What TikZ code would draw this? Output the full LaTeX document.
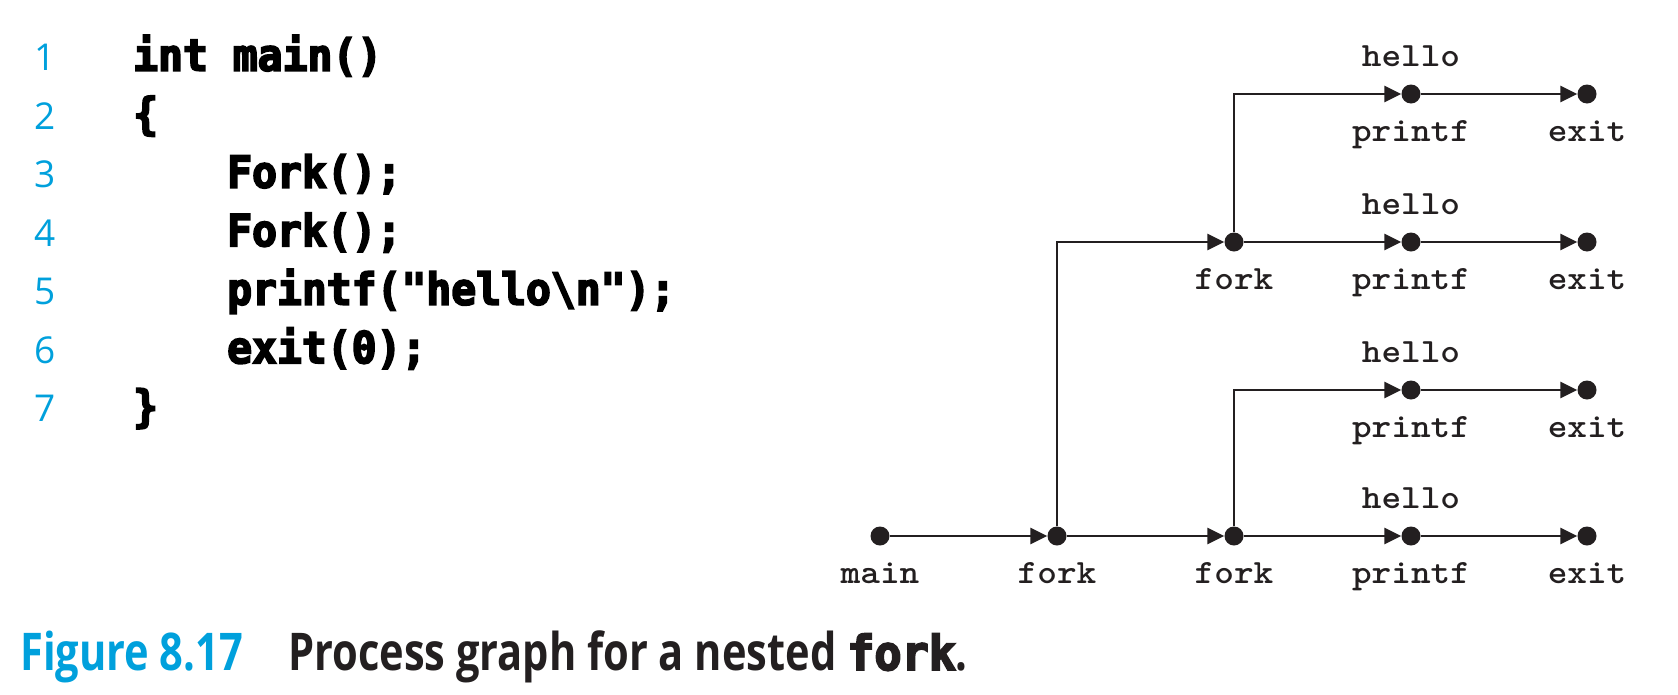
\documentclass[tikz,border=0pt]{standalone}
\usepackage{fontspec}
\usetikzlibrary{arrows.meta}
\setmainfont{Open Sans}
\newfontfamily\codefont[FakeStretch=0.94,FakeBold=4]{DejaVu Sans Mono}
\newfontfamily\capcodefont[FakeStretch=0.94,FakeBold=4]{DejaVu Sans Mono}
\newfontfamily\capfont[FakeStretch=0.80]{Open Sans}
\newfontfamily\lblfont[FakeStretch=1.1]{lmmonolt10-bold.otf}
\definecolor{figcyan}{RGB}{0,160,220}
\definecolor{ink}{RGB}{35,31,32}

\tikzset{
  dot/.style={circle, fill=ink, inner sep=0pt, minimum size=19pt},
  flow/.style={draw=ink, line width=2.6pt, -{Triangle[length=17pt,width=16pt]}},
  lbl/.style={anchor=base, inner sep=0pt, text=ink, font=\lblfont\fontsize{34}{34}\selectfont},
  codeline/.style={anchor=base west, inner sep=0pt, text=black, font=\codefont\bfseries\fontsize{44}{44}\selectfont},
  lineno/.style={anchor=base, inner sep=0pt, text=figcyan, font=\fontsize{37}{37}\selectfont},
  caption/.style={anchor=base west, inner sep=0pt, font=\capfont\bfseries\fontsize{52}{52}\selectfont}
}

\begin{document}
\begin{tikzpicture}[x=1pt,y=-1pt]
\useasboundingbox (0,0) rectangle (1678,694);

% line numbers
\foreach \k in {1,...,7}{
  \node[lineno] (n\k) at (45,{70.7+(\k-1)*58.5}) {\k};
}

% source code
\node[codeline] (c1) at (133,70.7) {int main()};
\node[codeline] (c2) at (133,129.2) {\{};
\node[codeline] (c3) at (227,187.7) {Fork();};
\node[codeline] (c4) at (227,246.2) {Fork();};
\node[codeline] (c5) at (227,304.7) {printf(\symbol{34}hello\textbackslash n\symbol{34});};
\node[codeline] (c6) at (227,363.2) {exit(0);};
\node[codeline] (c7) at (133,421.7) {\}};

% process graph: events
\node[dot] (main) at (880,536) {};
\node[dot] (f1) at (1057,536) {};
\node[dot] (f2) at (1234,536) {};
\node[dot] (p4) at (1411,536) {};
\node[dot] (e4) at (1587,536) {};
\node[dot] (p3) at (1411,390) {};
\node[dot] (e3) at (1587,390) {};
\node[dot] (f3) at (1234,242) {};
\node[dot] (p2) at (1411,242) {};
\node[dot] (e2) at (1587,242) {};
\node[dot] (p1) at (1411,94) {};
\node[dot] (e1) at (1587,94) {};

% process graph: edges
\draw[flow] (main) -- (f1);
\draw[flow] (f1) -- (f2);
\draw[flow] (f2) -- (p4);
\draw[flow] (p4) -- (e4);
\draw[flow] (f2) |- (p3);
\draw[flow] (p3) -- (e3);
\draw[flow] (f1) |- (f3);
\draw[flow] (f3) -- (p2);
\draw[flow] (p2) -- (e2);
\draw[flow] (f3) |- (p1);
\draw[flow] (p1) -- (e1);

% event labels
\node[lbl] (lmain) at (880,583) {main};
\node[lbl] (lf1) at (1057,583) {fork};
\node[lbl] (lf2) at (1234,583) {fork};
\node[lbl] (lp4) at (1411,583) {printf};
\node[lbl] (le4) at (1587,583) {exit};
\node[lbl] (lp3) at (1411,437) {printf};
\node[lbl] (le3) at (1587,437) {exit};
\node[lbl] (lf3) at (1234,289) {fork};
\node[lbl] (lp2) at (1411,289) {printf};
\node[lbl] (le2) at (1587,289) {exit};
\node[lbl] (lp1) at (1411,141) {printf};
\node[lbl] (le1) at (1587,141) {exit};
\node[lbl] (h1) at (1411,66) {hello};
\node[lbl] (h2) at (1411,214) {hello};
\node[lbl] (h3) at (1411,362) {hello};
\node[lbl] (h4) at (1411,508) {hello};

% caption
\node[caption, text=figcyan] (capnum) at (20,670) {Figure 8.17};
\node[caption, text=ink] (captext) at (288,670) {Process graph for a nested {\capcodefont\bfseries\fontsize{48}{48}\selectfont fork}.};
\end{tikzpicture}
\end{document}
